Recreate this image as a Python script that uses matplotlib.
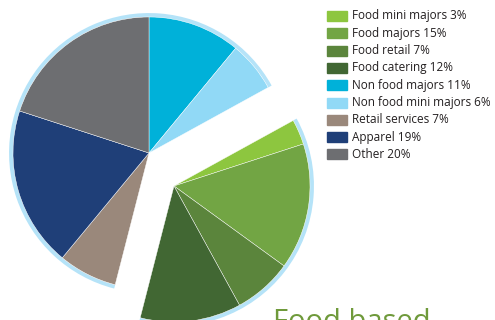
import matplotlib.pyplot as plt
from matplotlib.patches import Arc, Rectangle

# Share of units by sector
labels = ['Food mini majors', 'Food majors', 'Food retail', 'Food catering',
          'Non food majors', 'Non food mini majors', 'Retail services',
          'Apparel', 'Other']
shares = [3, 15, 7, 12, 11, 6, 7, 19, 20]
colours = ['#8dc63f', '#72a544', '#5b853c', '#416733',
           '#00b1d9', '#91d9f6', '#9a887b', '#1f3f78', '#6d6e71']
food_group = ['Food mini majors', 'Food majors', 'Food retail', 'Food catering']

# pie order runs clockwise from 12 o'clock
pie_order = [4, 5, 0, 1, 2, 3, 6, 7, 8]

fig = plt.figure(figsize=(4.95, 3.2), dpi=100)
ax = fig.add_axes([0, 0, 1, 1])

centre = (149, 167)
food_centre = (174, 134)
radius = 136
rim = '#b5e3f8'

wedges, _ = ax.pie([shares[i] for i in pie_order],
                   colors=[colours[i] for i in pie_order],
                   startangle=90, counterclock=False,
                   center=centre, radius=radius,
                   wedgeprops=dict(edgecolor='white', linewidth=0.3))

# pull the food sectors out of the main pie
for w, i in zip(wedges, pie_order):
    if labels[i] in food_group:
        w.set_center(food_centre)

food_total = sum(shares[labels.index(n)] for n in food_group)
food_start = 90 - 360 * (shares[4] + shares[5]) / 100
food_end = food_start - 360 * food_total / 100

# light blue rim round both pieces
ax.add_patch(Arc(centre, 2 * radius + 4, 2 * radius + 4, theta1=food_start,
                 theta2=food_end + 360, color=rim, lw=2.8, zorder=0))
ax.add_patch(Arc(food_centre, 2 * radius + 4, 2 * radius + 4, theta1=food_end,
                 theta2=food_start, color=rim, lw=2.8, zorder=0))

# legend
for k, (lab, val, col) in enumerate(zip(labels, shares, colours)):
    y = 304 - k * 17.3
    ax.add_patch(Rectangle((327, y - 5), 20, 10, color=col))
    ax.text(352, y, f'{lab} {val}%', fontsize=8.5, family='Open Sans',
            color='#231f20', va='center', ha='left')

ax.text(273, -10, 'Food based', fontsize=21, family='Open Sans',
        color='#6f9a3b', va='baseline', ha='left')

ax.set_xlim(0, 495)
ax.set_ylim(0, 320)
ax.set_aspect('equal')
ax.axis('off')

fig.savefig('out.png', dpi=100)
